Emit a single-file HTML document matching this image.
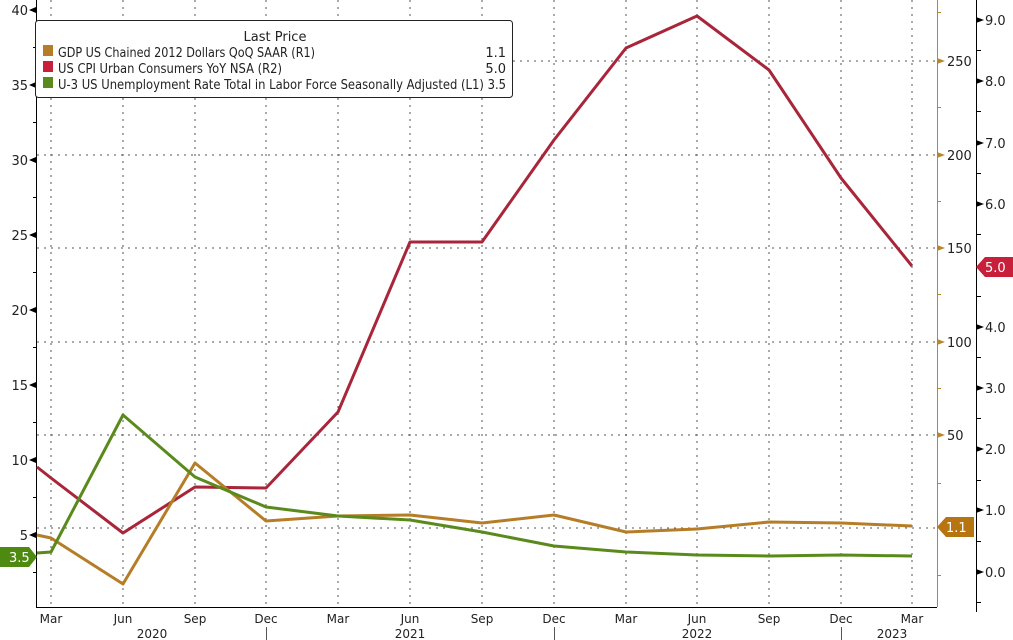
<!DOCTYPE html>
<html><head><meta charset="utf-8"><style>
html,body{margin:0;padding:0;background:#fff;}
svg{display:block;font-family:"DejaVu Sans","Liberation Sans",sans-serif;}
</style></head><body>
<svg width="1013" height="640" viewBox="0 0 1013 640" xmlns="http://www.w3.org/2000/svg">
<rect width="1013" height="640" fill="#fff"/>
<g stroke="#555" stroke-width="1" stroke-dasharray="2,5">
<line x1="51" y1="0" x2="51" y2="607"/><line x1="123" y1="0" x2="123" y2="607"/><line x1="195" y1="0" x2="195" y2="607"/><line x1="266" y1="0" x2="266" y2="607"/><line x1="338" y1="0" x2="338" y2="607"/><line x1="410" y1="0" x2="410" y2="607"/><line x1="482" y1="0" x2="482" y2="607"/><line x1="554" y1="0" x2="554" y2="607"/><line x1="626" y1="0" x2="626" y2="607"/><line x1="697" y1="0" x2="697" y2="607"/><line x1="769" y1="0" x2="769" y2="607"/><line x1="841" y1="0" x2="841" y2="607"/><line x1="912" y1="0" x2="912" y2="607"/>
<line x1="37" y1="61" x2="937" y2="61"/><line x1="37" y1="155" x2="937" y2="155"/><line x1="37" y1="248" x2="937" y2="248"/><line x1="37" y1="342" x2="937" y2="342"/><line x1="37" y1="435" x2="937" y2="435"/><line x1="37" y1="528" x2="937" y2="528"/>
</g>
<line x1="36.5" y1="0" x2="36.5" y2="607" stroke="#000"/>
<line x1="36" y1="607.5" x2="937" y2="607.5" stroke="#000"/>
<line x1="937.5" y1="0" x2="937.5" y2="607" stroke="#b8862b"/>
<line x1="976.5" y1="0" x2="976.5" y2="612" stroke="#000"/>
<g font-size="13" fill="#222" text-anchor="end">
<text x="28" y="15">40</text><text x="28" y="90">35</text><text x="28" y="165">30</text><text x="28" y="240">25</text><text x="28" y="315">20</text><text x="28" y="390">15</text><text x="28" y="465">10</text><text x="28" y="540">5</text>
</g>
<g fill="#000">
<path d="M29,10 l7,-3 v6z"/><path d="M29,85 l7,-3 v6z"/><path d="M29,160 l7,-3 v6z"/><path d="M29,235 l7,-3 v6z"/><path d="M29,310 l7,-3 v6z"/><path d="M29,385 l7,-3 v6z"/><path d="M29,460 l7,-3 v6z"/><path d="M29,535 l7,-3 v6z"/>
</g>
<g stroke="#000"><line x1="33" y1="47.5" x2="36" y2="47.5"/><line x1="33" y1="122.5" x2="36" y2="122.5"/><line x1="33" y1="197.5" x2="36" y2="197.5"/><line x1="33" y1="272.5" x2="36" y2="272.5"/><line x1="33" y1="347.5" x2="36" y2="347.5"/><line x1="33" y1="422.5" x2="36" y2="422.5"/><line x1="33" y1="497.5" x2="36" y2="497.5"/><line x1="33" y1="572.5" x2="36" y2="572.5"/></g>
<g fill="#b8862b"><path d="M937,58 l8,3 -8,3z"/><path d="M937,152 l8,3 -8,3z"/><path d="M937,245 l8,3 -8,3z"/><path d="M937,339 l8,3 -8,3z"/><path d="M937,432 l8,3 -8,3z"/></g>
<g stroke="#b8862b"><line x1="937" y1="12.5" x2="941" y2="12.5"/><line x1="937" y1="107.5" x2="941" y2="107.5"/><line x1="937" y1="201.5" x2="941" y2="201.5"/><line x1="937" y1="294.5" x2="941" y2="294.5"/><line x1="937" y1="388.5" x2="941" y2="388.5"/><line x1="937" y1="483.5" x2="941" y2="483.5"/><line x1="937" y1="575.5" x2="941" y2="575.5"/></g>
<g font-size="13" fill="#222"><text x="947" y="66">250</text><text x="947" y="160">200</text><text x="947" y="253">150</text><text x="947" y="347">100</text><text x="947" y="440">50</text></g>
<g fill="#000"><path d="M976,17 l8,3 -8,3z"/><path d="M976,78 l8,3 -8,3z"/><path d="M976,140 l8,3 -8,3z"/><path d="M976,201 l8,3 -8,3z"/><path d="M976,324 l8,3 -8,3z"/><path d="M976,385 l8,3 -8,3z"/><path d="M976,446 l8,3 -8,3z"/><path d="M976,507 l8,3 -8,3z"/><path d="M976,569 l8,3 -8,3z"/></g>
<g stroke="#000"><line x1="976" y1="50.5" x2="981" y2="50.5"/><line x1="976" y1="111.5" x2="981" y2="111.5"/><line x1="976" y1="173.5" x2="981" y2="173.5"/><line x1="976" y1="234.5" x2="981" y2="234.5"/><line x1="976" y1="296.5" x2="981" y2="296.5"/><line x1="976" y1="357.5" x2="981" y2="357.5"/><line x1="976" y1="418.5" x2="981" y2="418.5"/><line x1="976" y1="480.5" x2="981" y2="480.5"/><line x1="976" y1="541.5" x2="981" y2="541.5"/><line x1="976" y1="602.5" x2="981" y2="602.5"/></g>
<g font-size="13" fill="#222"><text x="985" y="25">9.0</text><text x="985" y="86">8.0</text><text x="985" y="148">7.0</text><text x="985" y="209">6.0</text><text x="985" y="332">4.0</text><text x="985" y="393">3.0</text><text x="985" y="454">2.0</text><text x="985" y="515">1.0</text><text x="985" y="577">0.0</text></g>
<polyline fill="none" stroke="#a8253a" stroke-width="3" stroke-linejoin="round" points="37,467 51,478 123,533 195,487 266,488 338,412 410,242 482,242 554,140 626,48 697,16 769,70 841,178 912,266"/>
<polyline fill="none" stroke="#b67d28" stroke-width="3" stroke-linejoin="round" points="37,535 51,538 123,584 195,463 266,521 338,516 410,515 482,523 554,515 626,532 697,529 769,522 841,523 912,526"/>
<polyline fill="none" stroke="#5a8a1c" stroke-width="3" stroke-linejoin="round" points="37,553 51,552 123,415 195,477 266,507 338,516 410,520 482,532 554,546 626,552 697,555 769,556 841,555 912,556"/>
<path d="M976,267 l9,-10 h28 v20 h-28z" fill="#c8203a"/><text x="985" y="272" font-size="13" fill="#fff">5.0</text>
<path d="M937,527 l9,-10 h28 v20 h-28z" fill="#b67511"/><text x="946" y="532" font-size="13" fill="#fff">1.1</text>
<path d="M0,547 h29 l8,10 -8,10 h-29z" fill="#4f8a10"/><text x="9" y="562" font-size="13" fill="#fff">3.5</text>
<g font-size="12" fill="#222" text-anchor="middle">
<text x="51" y="623">Mar</text><text x="123" y="623">Jun</text><text x="195" y="623">Sep</text><text x="266" y="623">Dec</text><text x="338" y="623">Mar</text><text x="410" y="623">Jun</text><text x="482" y="623">Sep</text><text x="554" y="623">Dec</text><text x="626" y="623">Mar</text><text x="697" y="623">Jun</text><text x="769" y="623">Sep</text><text x="841" y="623">Dec</text><text x="912" y="623">Mar</text>
<text x="152" y="638">2020</text><text x="410" y="638">2021</text><text x="697" y="638">2022</text><text x="892" y="638">2023</text>
</g>
<g stroke="#555"><line x1="266.5" y1="627" x2="266.5" y2="640"/><line x1="554.5" y1="627" x2="554.5" y2="640"/><line x1="841.5" y1="627" x2="841.5" y2="640"/></g>
<rect x="35.5" y="20.5" width="477" height="77" rx="3" fill="#fff" stroke="#222"/>
<g font-size="13" fill="#222">
<text x="275" y="41" text-anchor="middle">Last Price</text>
<rect x="43" y="45" width="10" height="11" fill="#b67d28"/><text x="58" y="57" textLength="257" lengthAdjust="spacingAndGlyphs">GDP US Chained 2012 Dollars QoQ SAAR  (R1)</text><text x="506" y="57" text-anchor="end">1.1</text>
<rect x="43" y="61" width="10" height="11" fill="#c8203a"/><text x="58" y="73" textLength="224" lengthAdjust="spacingAndGlyphs">US CPI Urban Consumers YoY NSA  (R2)</text><text x="506" y="73" text-anchor="end">5.0</text>
<rect x="43" y="77" width="10" height="11" fill="#5a8a1c"/><text x="58" y="89" textLength="448" lengthAdjust="spacingAndGlyphs">U-3 US Unemployment Rate Total in Labor Force Seasonally Adjusted  (L1) 3.5</text>
</g>
</svg>
</body></html>
